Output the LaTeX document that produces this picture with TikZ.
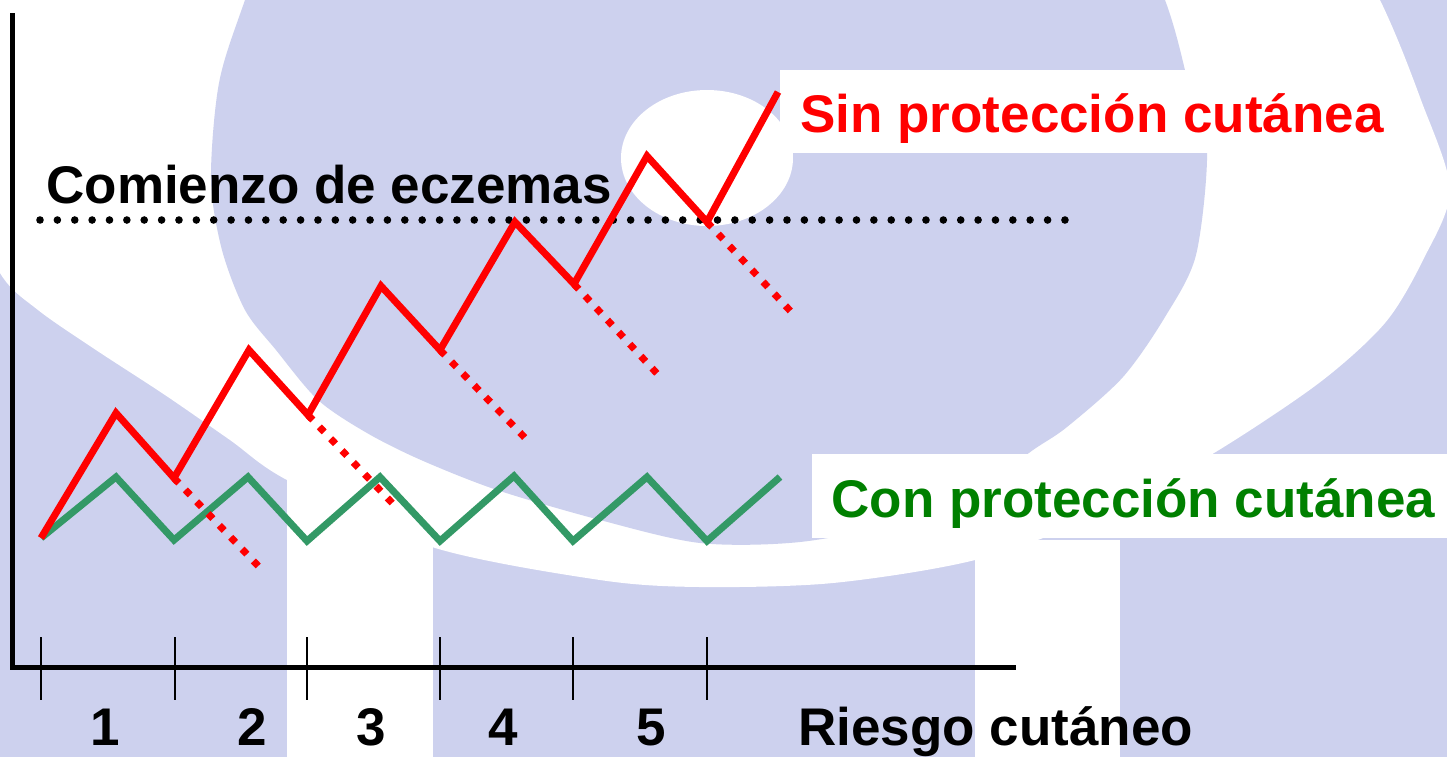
\documentclass[tikz,border=0pt]{standalone}
\usepackage{fontspec}
\setmainfont{Liberation Sans}
\definecolor{lav}{RGB}{205,209,238}
\definecolor{redc}{RGB}{255,0,0}
\definecolor{greenline}{RGB}{51,153,102}
\definecolor{greentext}{RGB}{0,128,0}
\begin{document}
\begin{tikzpicture}[x=0.5pt,y=-0.5pt,
  lbl/.style={inner sep=0pt, font=\fontsize{26.5}{30}\selectfont\bfseries, anchor=base west},
  num/.style={inner sep=0pt, font=\fontsize{26.5}{30}\selectfont\bfseries, anchor=base},
  axisline/.style={line width=2.5pt, line join=miter, black},
  tickline/.style={line width=1.3pt, black},
  redline/.style={line width=3.5pt, redc, line join=miter},
  reddash/.style={line width=3.5pt, redc, dash pattern=on 3.5pt off 4.7pt},
  greenzig/.style={line width=3.5pt, greenline, line join=miter},
  dotline/.style={line width=3.8pt, black, line cap=round, dash pattern=on 0pt off 8.686pt}]
\useasboundingbox (0,0) rectangle (1447,757);
\clip (0,0) rectangle (1447,757);
% background logo
\fill[lav] (0,0) rectangle (1447,757);
\fill[white] plot[smooth cycle] coordinates {(-120,-60) (-40,180) (0,273) (38,310) (96,350) (165,395) (230,440) (287,480) (432,547) (600,580) (700,587) (833,583) (975,560) (1100,515) (1214,453) (1319,383) (1385,323) (1423,260) (1450,190) (1421,100) (1380,0) (1300,-150) (700,-400) (100,-250)};
\fill[lav] plot[smooth cycle] coordinates {(245,0) (219,83) (211,180) (222,250) (245,310) (276,350) (318,400) (367,433) (421,460) (497,490) (600,520) (700,543) (800,542) (900,522) (980,488) (1033,450) (1067,427) (1123,377) (1165,317) (1196,255) (1207,150) (1190,90) (1165,0) (1100,-150) (700,-300) (300,-150)};
\fill[white] (287,478) rectangle (433,757);
\fill[white] (975,540) rectangle (1120,757);
\fill[white] (707,158) ellipse [x radius=86, y radius=68];
% label boxes
\fill[white] (780,70) rectangle (1400,153);
\fill[white] (812,454) rectangle (1447,538);
% axes
\coordinate (ytop) at (12,13);
\coordinate (origin) at (12,667);
\coordinate (xend) at (1016,667);
\draw[axisline] (ytop) -- (origin) -- (xend);
\foreach \i/\x in {1/41,2/175,3/307,4/440,5/573,6/707}{
  \coordinate (t\i a) at (\x,637);
  \coordinate (t\i b) at (\x,700);
  \draw[tickline] (t\i a) -- (t\i b);
}
\node[num] (n1) at (105,745) {1};
\node[num] (n2) at (252,745) {2};
\node[num] (n3) at (371,745) {3};
\node[num] (n4) at (503,745) {4};
\node[num] (n5) at (651,745) {5};
\node[lbl] (riesgo) at (798,745) {Riesgo cutáneo};
% threshold
\node[lbl] (comienzo) at (46,203) {Comienzo de eczemas};
\coordinate (d0) at (40,220);
\coordinate (d1) at (1066,220);
\draw[dotline] (d0) -- (d1);
% green zigzag
\coordinate (g0) at (41,538);
\coordinate (g1) at (116,477);
\coordinate (g2) at (174,540);
\coordinate (g3) at (248,477);
\coordinate (g4) at (307,541);
\coordinate (g5) at (380,477);
\coordinate (g6) at (440,541);
\coordinate (g7) at (514,476);
\coordinate (g8) at (573,541);
\coordinate (g9) at (647,477);
\coordinate (g10) at (707,541);
\coordinate (g11) at (780,477);
\draw[greenzig] (g0) -- (g1) -- (g2) -- (g3) -- (g4) -- (g5) -- (g6) -- (g7) -- (g8) -- (g9) -- (g10) -- (g11);
% red dashed branches
\coordinate (v1) at (174,478);
\coordinate (v2) at (308,415);
\coordinate (v3) at (440,350);
\coordinate (v4) at (574,284);
\coordinate (v5) at (707,222);
\coordinate (e1) at (264,572);
\coordinate (e2) at (397,508);
\coordinate (e3) at (530,443);
\coordinate (e4) at (663,380);
\coordinate (e5) at (796,317);
\foreach \i in {1,...,5}{\draw[reddash] (v\i) -- (e\i);}
% red zigzag
\coordinate (r0) at (41,538);
\coordinate (p1) at (116,413);
\coordinate (p2) at (249,350);
\coordinate (p3) at (381,286);
\coordinate (p4) at (515,222);
\coordinate (p5) at (647,156);
\coordinate (rend) at (778,92);
\draw[redline] (r0) -- (p1) -- (v1) -- (p2) -- (v2) -- (p3) -- (v3) -- (p4) -- (v4) -- (p5) -- (v5) -- (rend);
% labels
\node[lbl, text=redc] (sin) at (800,132) {Sin protección cutánea};
\node[lbl, text=greentext] (con) at (831,517) {Con protección cutánea};
\end{tikzpicture}
\end{document}
